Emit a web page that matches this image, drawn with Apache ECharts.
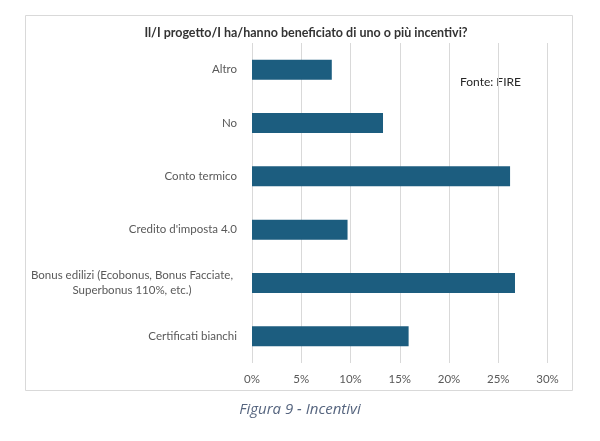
<!DOCTYPE html>
<html>
<head>
<meta charset="utf-8">
<script src="https://cdn.jsdelivr.net/npm/echarts@6/dist/echarts.min.js"></script>
<style>html,body{margin:0;padding:0;background:#fff;}#c{width:600px;height:441px;}</style>
</head>
<body>
<div id="c"></div>
<script>
const categories = ["Altro", "No", "Conto termico", "Credito d'imposta 4.0", "Bonus edilizi (Ecobonus, Bonus Facciate,\nSuperbonus 110%, etc.)", "Certificati bianchi"];
const values = [8.1, 13.3, 26.2, 9.7, 26.7, 15.9];
const tickValues = [0, 5, 10, 15, 20, 25, 30];
const titleText = "Il/I progetto/I ha/hanno beneficiato di uno o più incentivi?";
const sourceText = "Fonte: FIRE";
const captionText = "Figura 9 - Incentivi";

const chart = echarts.init(document.getElementById('c'), null, {renderer: 'canvas'});
chart.setOption({
  backgroundColor: '#ffffff',
  animation: false,
  title: {
    text: titleText,
    left: 301, top: 21, textAlign: 'center',
    textStyle: {fontFamily: 'Lato', fontWeight: 'bold', fontSize: 12.5, color: '#333333'}
  },
  graphic: [
    {type: 'rect', shape: {x: 25.5, y: 15.5, width: 547, height: 375}, style: {fill: 'none', stroke: '#d9d9d9', lineWidth: 1}, z: -1},
    {type: 'text', left: 460, top: 76, style: {text: sourceText, font: '12px Lato', fill: '#262626'}},
    {type: 'text', left: 'center', top: 402, style: {text: captionText, font: 'italic 15px "Open Sans"', fill: '#56657f'}}
  ],
  grid: {left: 252, right: 52.5, top: 43, bottom: 78, containLabel: false},
  xAxis: {
    type: 'value', min: tickValues[0], max: tickValues[tickValues.length - 1], interval: 5,
    axisLine: {show: false}, axisTick: {show: false},
    splitLine: {lineStyle: {color: '#d9d9d9', width: 1}},
    axisLabel: {formatter: v => v + '%', color: '#595959', fontFamily: 'Lato', fontSize: 11.5, margin: 10}
  },
  yAxis: {
    type: 'category', inverse: true, data: categories,
    axisLine: {show: false}, axisTick: {show: false},
    axisLabel: {
      color: '#595959', fontFamily: 'Lato', fontSize: 11.5, margin: 15, lineHeight: 15,
      formatter: function (v) {
        if (v.indexOf('\n') >= 0) {
          return v.split('\n').map(s => '{c|' + s + '}').join('\n');
        }
        return v;
      },
      rich: {c: {width: 210, align: 'center', color: '#595959', fontFamily: 'Lato', fontSize: 11.5, lineHeight: 15}}
    }
  },
  series: [{
    type: 'bar', data: values, barWidth: 20,
    itemStyle: {color: '#1c5d7f'}
  }]
});
</script>
</body>
</html>
